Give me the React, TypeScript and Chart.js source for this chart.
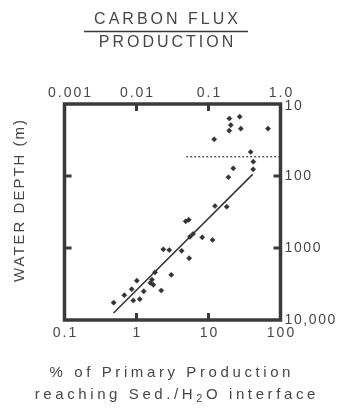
import React, { useEffect, useRef } from "react";
import { Chart, registerables } from "chart.js";

Chart.register(...registerables);

// % of primary production reaching the sediment/water interface
const percentValues = [
  19.5, 27.1, 20.4, 19.4, 28.1, 67, 12.0, 38.5, 41.9, 22.1, 41.7, 18.9,
  12.3, 17.9, 4.82, 5.31, 6.09, 5.53, 8.18, 11.4, 2.36, 2.85, 4.24, 5.39,
  1.81, 3.04, 1.01, 1.64, 1.56, 1.71, 0.858, 1.26, 2.21, 0.677, 0.903, 1.11,
  0.482,
];
// water depth (m)
const depthValues = [
  15.9, 15.0, 19.6, 23.5, 22.0, 22.0, 30.9, 46.4, 63.3, 78.2, 80.7, 104,
  261, 267, 426, 406, 639, 699, 710, 774, 1043, 1066, 1093, 1386,
  2175, 2356, 2845, 2755, 3042, 3245, 3735, 3993, 3893, 4527, 5359, 5140,
  5754,
];

// regression line
const fitLineX = [0.48, 41];
const fitLineY = [8000, 95];
// dotted reference line
const refLineX = [4.9, 100];
const refLineY = [54, 54];

const percentTicks = [0.1, 1, 10, 100];
const percentTickLabels = ["0.1", "1", "10", "100"];
const ratioTickLabels = ["0.001", "0.01", "0.1", "1.0"];
const innerPercentTicks = [1, 10];
const depthTicks = [10, 100, 1000, 10000];
const depthTickLabels = ["10", "100", "1000", "10,000"];
const innerDepthTicks = [100, 1000];

const titleTop = "CARBON FLUX";
const titleBottom = "PRODUCTION";
const yTitle = "WATER DEPTH (m)";
const xTitle1 = "% of Primary Production";
// second line, with the subscript part marked separately
const xTitle2Parts: [string, boolean][] = [
  ["reaching Sed./H", false],
  ["2", true],
  ["O interface", false],
];

const FONT = '"Liberation Sans", Arial, Helvetica, sans-serif';
const TEXT = "#474747";
const INK = "#3a3a3a";

function spaced(
  ctx: CanvasRenderingContext2D,
  text: string,
  x: number,
  y: number,
  size: number,
  spacing: number,
  align: "center" | "left" = "center",
  rotate = 0
) {
  ctx.save();
  ctx.font = `${size}px ${FONT}`;
  (ctx as any).letterSpacing = `${spacing}px`;
  ctx.fillStyle = TEXT;
  ctx.textBaseline = "middle";
  ctx.textAlign = "left";
  const w = ctx.measureText(text).width - spacing;
  ctx.translate(x, y);
  if (rotate) ctx.rotate(rotate);
  const x0 = align === "center" ? -w / 2 : 0;
  ctx.fillText(text, x0, 0);
  ctx.restore();
  return w;
}

function spacedParts(
  ctx: CanvasRenderingContext2D,
  parts: [string, boolean][],
  cx: number,
  y: number,
  size: number,
  spacing: number
) {
  ctx.save();
  ctx.fillStyle = TEXT;
  ctx.textBaseline = "middle";
  ctx.textAlign = "left";
  (ctx as any).letterSpacing = `${spacing}px`;
  const subSize = Math.round(size * 0.7);
  const widths = parts.map(([t, sub]) => {
    ctx.font = `${sub ? subSize : size}px ${FONT}`;
    return ctx.measureText(t).width;
  });
  const total = widths.reduce((a, b) => a + b, 0) - spacing;
  let x = cx - total / 2;
  parts.forEach(([t, sub], i) => {
    ctx.font = `${sub ? subSize : size}px ${FONT}`;
    ctx.fillText(t, x, sub ? y + 4 : y);
    x += widths[i];
  });
  ctx.restore();
}

const framePlugin = {
  id: "frameAndText",
  afterDraw(chart: any) {
    const { ctx, chartArea } = chart;
    const xs = chart.scales.x;
    const ys = chart.scales.y;
    const { left, right, top, bottom } = chartArea;

    ctx.save();
    // frame
    ctx.strokeStyle = INK;
    ctx.lineWidth = 3.5;
    ctx.strokeRect(left, top, right - left, bottom - top);
    // inward ticks
    ctx.lineWidth = 3;
    const tl = 7;
    innerPercentTicks.forEach((v) => {
      const px = xs.getPixelForValue(v);
      ctx.beginPath();
      ctx.moveTo(px, top);
      ctx.lineTo(px, top + tl);
      ctx.moveTo(px, bottom);
      ctx.lineTo(px, bottom - tl);
      ctx.stroke();
    });
    innerDepthTicks.forEach((v) => {
      const py = ys.getPixelForValue(v);
      ctx.beginPath();
      ctx.moveTo(left, py);
      ctx.lineTo(left + tl, py);
      ctx.moveTo(right, py);
      ctx.lineTo(right - tl, py);
      ctx.stroke();
    });
    ctx.restore();

    // tick labels
    percentTicks.forEach((v, i) => {
      const px = xs.getPixelForValue(v);
      spaced(ctx, ratioTickLabels[i], px + (i === 0 ? 5 : 0), top - 11, 14, 2);
      spaced(ctx, percentTickLabels[i], px, bottom + 13, 14, 2);
    });
    depthTicks.forEach((v, i) => {
      const py = ys.getPixelForValue(v);
      spaced(ctx, depthTickLabels[i], right + 4, py + (i === 0 ? 2 : 0), 14, 1.6, "left");
    });

    // title fraction
    const cx = 166;
    spaced(ctx, titleTop, cx, 20, 16, 3);
    spaced(ctx, titleBottom, cx, 43, 16, 3);
    ctx.save();
    ctx.strokeStyle = INK;
    ctx.lineWidth = 1.6;
    ctx.beginPath();
    ctx.moveTo(84, 31.5);
    ctx.lineTo(248, 31.5);
    ctx.stroke();
    ctx.restore();

    // axis titles
    spaced(ctx, yTitle, 20, 201, 15, 2, "center", -Math.PI / 2);
    spaced(ctx, xTitle1, 170, 373, 15, 3.6);
    spacedParts(ctx, xTitle2Parts, 175, 395, 15, 3.6);
  },
};

export default function App() {
  const ref = useRef<HTMLCanvasElement | null>(null);

  useEffect(() => {
    if (!ref.current) return;
    const chart = new Chart(ref.current, {
      type: "scatter",
      data: {
        datasets: [
          {
            data: percentValues.map((x, i) => ({ x, y: depthValues[i] })),
            pointStyle: "rectRot",
            pointRadius: 2.6,
            backgroundColor: "#333333",
            borderColor: "#333333",
            borderWidth: 0.5,
          },
          {
            data: fitLineX.map((x, i) => ({ x, y: fitLineY[i] })),
            showLine: true,
            pointRadius: 0,
            borderColor: "#333333",
            borderWidth: 1.5,
          },
          {
            data: refLineX.map((x, i) => ({ x, y: refLineY[i] })),
            showLine: true,
            pointRadius: 0,
            borderColor: "#444444",
            borderWidth: 1.3,
            borderDash: [2, 2],
          },
        ],
      },
      options: {
        animation: false,
        responsive: false,
        events: [],
        layout: { padding: { left: 64.5, right: 56.5, top: 104, bottom: 94 } },
        scales: {
          x: { type: "logarithmic", min: 0.1, max: 100, display: false },
          y: {
            type: "logarithmic",
            min: 10,
            max: 10000,
            reverse: true,
            display: false,
          },
        },
        plugins: {
          legend: { display: false },
          tooltip: { enabled: false },
          title: { display: false },
        },
      },
      plugins: [framePlugin],
    });
    return () => chart.destroy();
  }, []);

  return (
    <div
      style={{
        position: "fixed",
        left: 0,
        top: 0,
        width: 337,
        height: 414,
        background: "#ffffff",
      }}
    >
      <canvas ref={ref} width={337} height={414} style={{ width: 337, height: 414 }} />
    </div>
  );
}
